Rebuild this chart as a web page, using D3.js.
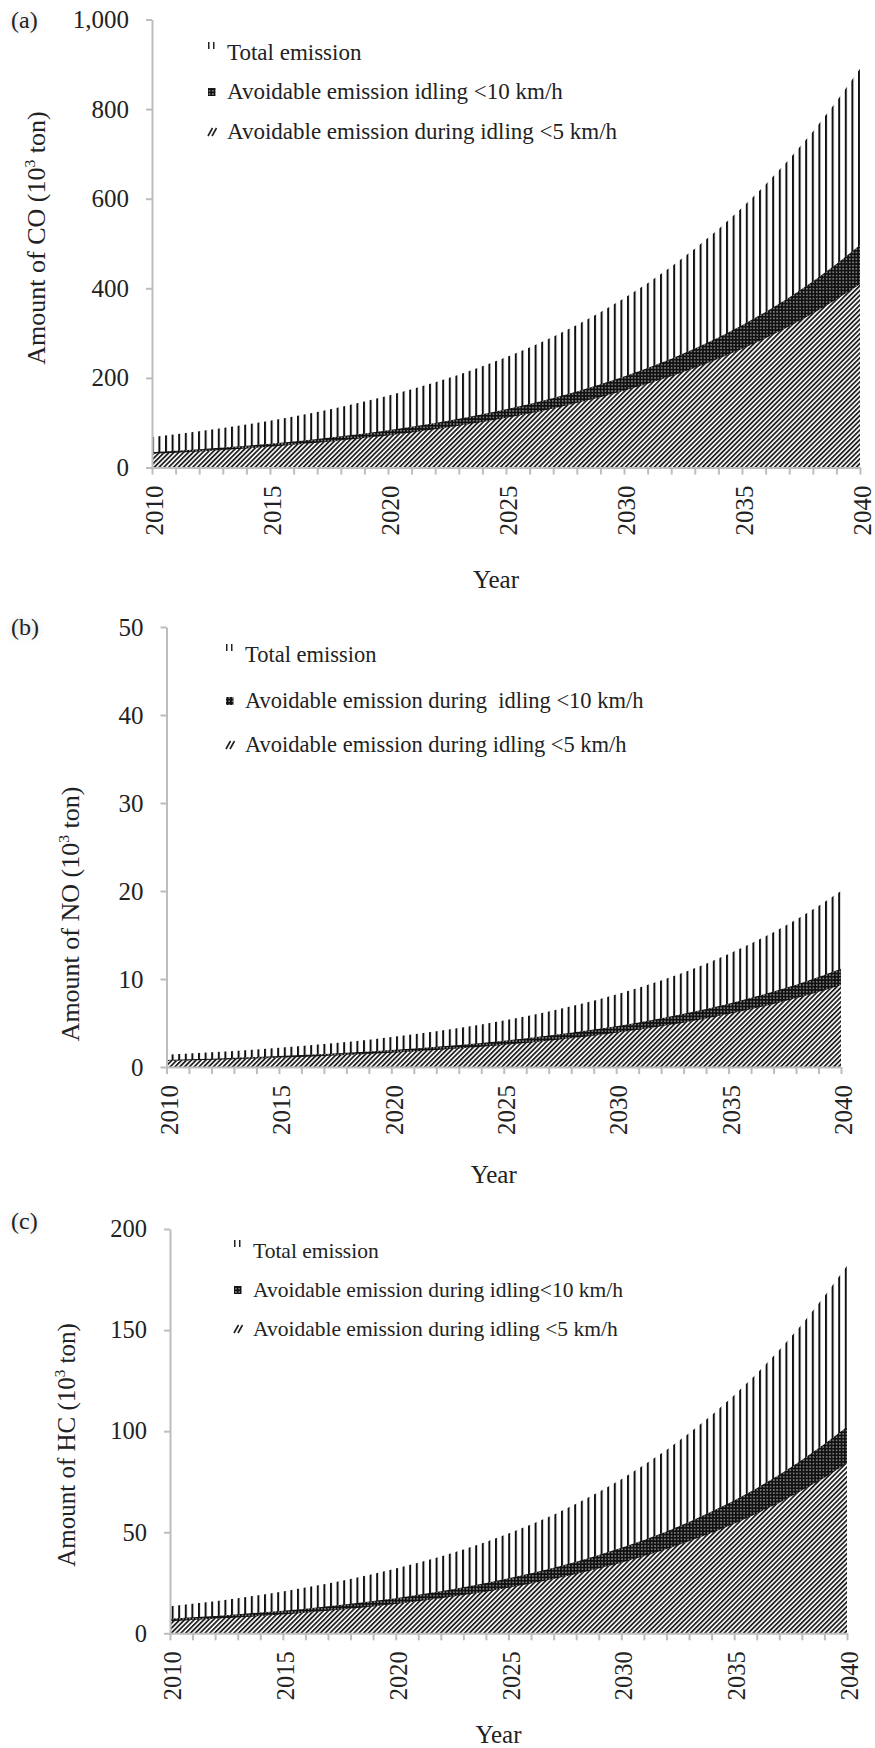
<!DOCTYPE html>
<html>
<head>
<meta charset="utf-8">
<script src="https://cdn.jsdelivr.net/npm/d3@7"></script>
<style>
  body { margin: 0; background: #fff; }
  svg { display: block; }
  text { font-family: "Liberation Serif", "Times New Roman", serif; fill: #222; }
</style>
</head>
<body>
<svg id="chart" width="875" height="1748"></svg>
<script>
// ---- data (10^3 ton per year) ----
const years = [2010, 2011, 2012, 2013, 2014, 2015, 2016, 2017, 2018, 2019, 2020,
               2021, 2022, 2023, 2024, 2025, 2026, 2027, 2028, 2029, 2030,
               2031, 2032, 2033, 2034, 2035, 2036, 2037, 2038, 2039, 2040];
const yearTickLabels = [2010, 2015, 2020, 2025, 2030, 2035, 2040];

// CO
const coTotal  = [68, 74.1, 80.7, 87.9, 95.8, 104.4, 113.7, 123.9, 135.0, 147.1, 160.2,
                  174.6, 190.2, 207.2, 225.8, 246.0, 268.0, 292.0, 318.1, 346.6, 377.6,
                  411.4, 448.2, 488.3, 532.0, 579.6, 631.5, 688.0, 749.6, 816.7, 889.8];
const coIdle10 = [34, 37.2, 40.7, 44.5, 48.6, 53.1, 58.1, 63.5, 69.5, 76.0, 83.1,
                  90.8, 99.3, 108.6, 118.8, 129.9, 142.0, 155.3, 169.8, 185.7, 203.1,
                  222.1, 242.8, 265.5, 290.4, 317.5, 347.2, 379.7, 415.2, 454.0, 496.5];
const coIdle5  = [30, 32.7, 35.7, 39.0, 42.5, 46.4, 50.6, 55.2, 60.2, 65.7, 71.7,
                  78.2, 85.3, 93.1, 101.5, 110.8, 120.8, 131.8, 143.8, 156.9, 171.2,
                  186.8, 203.8, 222.3, 242.6, 264.6, 288.7, 315.0, 343.6, 374.9, 409.0];
const coTicks = [0, 200, 400, 600, 800, 1000];

// NO
const noTotal  = [1.40, 1.53, 1.67, 1.83, 2.00, 2.18, 2.38, 2.60, 2.85, 3.11, 3.40,
                  3.71, 4.06, 4.43, 4.84, 5.29, 5.78, 6.32, 6.90, 7.54, 8.24,
                  9.00, 9.84, 10.75, 11.74, 12.83, 14.02, 15.32, 16.74, 18.29, 19.99];
const noIdle10 = [0.80, 0.87, 0.95, 1.04, 1.14, 1.24, 1.36, 1.48, 1.62, 1.77, 1.93,
                  2.11, 2.30, 2.51, 2.74, 2.99, 3.27, 3.57, 3.89, 4.25, 4.64,
                  5.07, 5.53, 6.04, 6.59, 7.20, 7.86, 8.58, 9.36, 10.22, 11.16];
const noIdle5  = [0.68, 0.74, 0.81, 0.88, 0.96, 1.05, 1.15, 1.25, 1.37, 1.49, 1.63,
                  1.77, 1.94, 2.11, 2.30, 2.51, 2.74, 2.99, 3.26, 3.56, 3.88,
                  4.24, 4.62, 5.04, 5.50, 6.01, 6.55, 7.15, 7.80, 8.51, 9.29];
const noTicks = [0, 10, 20, 30, 40, 50];

// HC
const hcTotal  = [13.4, 14.6, 15.9, 17.4, 19.0, 20.7, 22.6, 24.6, 26.9, 29.3, 32.0,
                  34.9, 38.0, 41.5, 45.2, 49.4, 53.8, 58.7, 64.1, 69.9, 76.2,
                  83.2, 90.7, 98.9, 107.9, 117.7, 128.4, 140.1, 152.8, 166.7, 181.8];
const hcIdle10 = [7.2, 7.9, 8.6, 9.4, 10.3, 11.2, 12.2, 13.4, 14.6, 16.0, 17.4,
                  19.1, 20.8, 22.8, 24.9, 27.2, 29.7, 32.4, 35.4, 38.7, 42.3,
                  46.2, 50.4, 55.1, 60.2, 65.7, 71.8, 78.4, 85.7, 93.6, 102.2];
const hcIdle5  = [6.0, 6.6, 7.2, 7.8, 8.5, 9.3, 10.2, 11.1, 12.1, 13.3, 14.5,
                  15.8, 17.3, 18.9, 20.6, 22.5, 24.6, 26.8, 29.3, 32.0, 34.9,
                  38.1, 41.6, 45.5, 49.6, 54.2, 59.2, 64.6, 70.6, 77.0, 84.1];
const hcTicks = [0, 50, 100, 150, 200];

// legend texts
const legendA = ["Total emission", "Avoidable emission idling <10 km/h", "Avoidable emission during idling <5 km/h"];
const legendB = ["Total emission", "Avoidable emission during  idling <10 km/h", "Avoidable emission during idling <5 km/h"];
const legendC = ["Total emission", "Avoidable emission during idling<10 km/h", "Avoidable emission during idling <5 km/h"];

const serif = '"Liberation Serif", "Times New Roman", serif';

// ---- layout of the three stacked panels ----
const panels = [
  { tag: "(a)", tagY: 28, gas: "CO", total: coTotal, idle10: coIdle10, idle5: coIdle5,
    ticks: coTicks, fmt: d3.format(","), x0: 152, x1: 860, yTop: 19.5, yBot: 467.5,
    tickFs: 25, titleFs: 26, titleX: 37, titleY: 238, yearY: 588,
    legend: legendA, legX: 227, legY: [60, 99, 139], legFs: 23 },
  { tag: "(b)", tagY: 635, gas: "NO", total: noTotal, idle10: noIdle10, idle5: noIdle5,
    ticks: noTicks, fmt: d3.format("d"), x0: 166.5, x1: 841, yTop: 627, yBot: 1067,
    tickFs: 25, titleFs: 26, titleX: 71, titleY: 914, yearY: 1183,
    legend: legendB, legX: 245, legY: [662, 708, 752], legFs: 22.5 },
  { tag: "(c)", tagY: 1229, gas: "HC", total: hcTotal, idle10: hcIdle10, idle5: hcIdle5,
    ticks: hcTicks, fmt: d3.format("d"), x0: 170, x1: 847, yTop: 1229, yBot: 1633.3,
    tickFs: 24.5, titleFs: 25, titleX: 67, titleY: 1445, yearY: 1743,
    legend: legendC, legX: 253, legY: [1258, 1297, 1336], legFs: 21.5 }
];

const svg = d3.select("#chart");
svg.append("rect").attr("width", 875).attr("height", 1748).attr("fill", "#fff");

// ---- fill patterns ----
const defs = svg.append("defs");
const pv = defs.append("pattern").attr("id", "vlines")
  .attr("patternUnits", "userSpaceOnUse").attr("width", 6.6).attr("height", 10);
pv.append("rect").attr("x", 0).attr("width", 2).attr("height", 10).attr("fill", "#111");

const pg = defs.append("pattern").attr("id", "grid")
  .attr("patternUnits", "userSpaceOnUse").attr("width", 3.3).attr("height", 3.3);
pg.append("rect").attr("width", 3.3).attr("height", 3.3).attr("fill", "#111");
pg.append("rect").attr("x", 1.1).attr("y", 1.1).attr("width", 1.1).attr("height", 1.1).attr("fill", "#fff");

const pd = defs.append("pattern").attr("id", "diag")
  .attr("patternUnits", "userSpaceOnUse").attr("width", 3.4).attr("height", 10)
  .attr("patternTransform", "rotate(45)");
pd.append("rect").attr("width", 3.4).attr("height", 10).attr("fill", "#fff");
pd.append("rect").attr("width", 1.8).attr("height", 10).attr("fill", "#222");

// soft grey halo behind the panel tags
const halo = defs.append("filter").attr("id", "halo")
  .attr("x", "-30%").attr("y", "-30%").attr("width", "160%").attr("height", "160%");
halo.append("feGaussianBlur").attr("stdDeviation", 3);

const axisColor = "#bdbdbd";

panels.forEach(p => {
  const x = d3.scaleLinear().domain([years[0], years[years.length - 1]]).range([p.x0, p.x1]);
  const y = d3.scaleLinear().domain([0, p.ticks[p.ticks.length - 1]]).range([p.yBot, p.yTop]);
  const g = svg.append("g");

  const area = d3.area()
    .x((d, i) => x(years[i]))
    .y0(y(0))
    .y1(d => y(d));

  g.append("path").datum(p.total).attr("d", area).attr("fill", "url(#vlines)");
  g.append("path").datum(p.idle10).attr("d", area).attr("fill", "url(#grid)");
  g.append("path").datum(p.idle5).attr("d", area).attr("fill", "url(#diag)");

  // y axis
  const ya = g.append("g").attr("transform", `translate(${p.x0},0)`)
    .call(d3.axisLeft(y).tickValues(p.ticks).tickFormat(p.fmt)
      .tickSize(6).tickSizeOuter(0).tickPadding(17));
  ya.attr("font-family", serif);
  ya.select(".domain").attr("stroke", axisColor).attr("stroke-width", 2);
  ya.selectAll(".tick line").attr("stroke", axisColor).attr("stroke-width", 2);
  ya.selectAll(".tick text")
    .attr("font-size", p.tickFs)
    .attr("font-family", serif)
    .attr("fill", "#222");

  // x axis: a tick every year, labels every five years
  const xa = g.append("g").attr("transform", `translate(0,${p.yBot})`)
    .call(d3.axisBottom(x).tickValues(years).tickFormat("")
      .tickSize(7).tickSizeOuter(0));
  xa.select(".domain").attr("stroke", axisColor).attr("stroke-width", 2);
  xa.selectAll(".tick line").attr("stroke", axisColor).attr("stroke-width", 2);

  g.selectAll(".xlab").data(yearTickLabels).join("text")
    .attr("class", "xlab")
    .attr("transform", d => `translate(${x(d)},${p.yBot + 18}) rotate(-90)`)
    .attr("text-anchor", "end")
    .attr("dy", "0.45em")
    .attr("font-family", serif)
    .attr("font-size", p.tickFs)
    .text(d => d);

  // axis titles
  const t = g.append("text")
    .attr("transform", `translate(${p.titleX},${p.titleY}) rotate(-90)`)
    .attr("text-anchor", "middle")
    .attr("dy", "0.3em")
    .attr("font-family", serif)
    .attr("font-size", p.titleFs);
  t.append("tspan").text(`Amount of ${p.gas} (10`);
  t.append("tspan").attr("font-size", p.titleFs * 0.6).attr("dy", -p.titleFs * 0.38).text("3");
  t.append("tspan").attr("dy", p.titleFs * 0.38).text(" ton)");

  g.append("text")
    .attr("x", (p.x0 + p.x1) / 2 - 10).attr("y", p.yearY)
    .attr("text-anchor", "middle")
    .attr("font-family", serif)
    .attr("font-size", 25)
    .text("Year");

  // panel tag with a faint grey halo
  g.append("text").attr("x", 11).attr("y", p.tagY).attr("font-size", 24)
    .attr("font-family", serif).attr("filter", "url(#halo)")
    .style("fill", "#cfcfcf").text(p.tag);
  g.append("text").attr("x", 11).attr("y", p.tagY).attr("font-size", 24)
    .attr("font-family", serif).text(p.tag);

  // legend
  const sx = p.legX - 19;
  const lg = g.append("g");
  // total: two short vertical strokes
  [0, 5].forEach(dx => {
    lg.append("rect").attr("x", sx + dx).attr("y", p.legY[0] - 18)
      .attr("width", 1.5).attr("height", 7).attr("fill", "#222");
  });
  // idling < 10 km/h: small grid block
  lg.append("rect").attr("x", sx).attr("y", p.legY[1] - 11)
    .attr("width", 7.5).attr("height", 8).attr("fill", "url(#grid)");
  // idling < 5 km/h: two short diagonal strokes
  [0, 4].forEach(dx => {
    lg.append("line")
      .attr("x1", sx + dx).attr("y1", p.legY[2] - 3)
      .attr("x2", sx + dx + 4.5).attr("y2", p.legY[2] - 11)
      .attr("stroke", "#222").attr("stroke-width", 1.6);
  });
  lg.selectAll(".legtext").data(p.legend).join("text")
    .attr("class", "legtext")
    .attr("x", p.legX)
    .attr("y", (d, i) => p.legY[i])
    .attr("font-family", serif)
    .attr("font-size", p.legFs)
    .style("white-space", "pre")
    .text(d => d);
});
</script>
</body>
</html>
